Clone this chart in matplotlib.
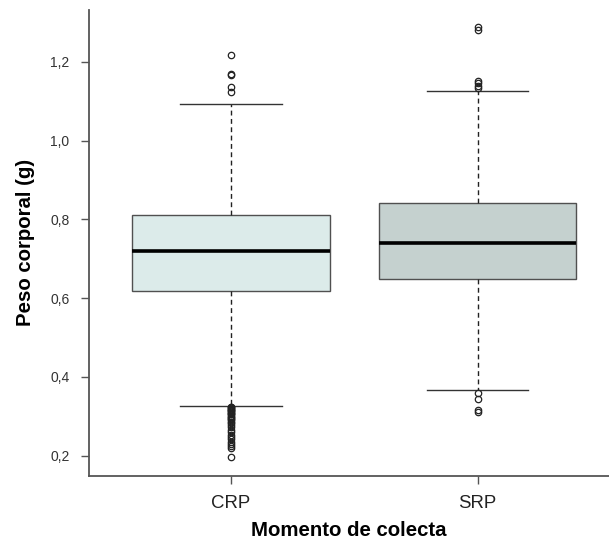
import matplotlib
matplotlib.use("Agg")
import matplotlib.pyplot as plt

plt.rcParams['font.family'] = ['Liberation Sans', 'DejaVu Sans']

# Summary statistics of body weight (g) per collection moment
categories = ["CRP", "SRP"]
q1 = [0.617, 0.648]
median = [0.719, 0.741]
q3 = [0.810, 0.841]
whisker_low = [0.327, 0.368]
whisker_high = [1.093, 1.127]
outliers = [
    [1.218, 1.170, 1.166, 1.135, 1.123,
     0.325, 0.323, 0.321, 0.319, 0.317, 0.315, 0.313, 0.311, 0.309, 0.307,
     0.305, 0.302, 0.299, 0.296, 0.293, 0.290, 0.286, 0.282, 0.277, 0.272,
     0.266, 0.260, 0.254, 0.248, 0.242, 0.236, 0.231, 0.226, 0.221, 0.197],
    [1.287, 1.280, 1.150, 1.145, 1.138, 1.133,
     0.360, 0.345, 0.316, 0.311],
]
box_colors = ["#dcebea", "#c5d1cf"]
yticks = [0.2, 0.4, 0.6, 0.8, 1.0, 1.2]
ytick_labels = ["0,2", "0,4", "0,6", "0,8", "1,0", "1,2"]

fig = plt.figure(figsize=(6.09, 5.42), dpi=100)
ax = fig.add_axes([0.146, 0.122, 0.854, 0.86])

stats = []
for i, name in enumerate(categories):
    stats.append(dict(label=name, med=median[i], q1=q1[i], q3=q3[i],
                      whislo=whisker_low[i], whishi=whisker_high[i],
                      fliers=outliers[i]))

bp = ax.bxp(stats, positions=[1, 2], widths=0.8, patch_artist=True,
            showfliers=True,
            boxprops=dict(edgecolor="#505050", linewidth=1.0),
            medianprops=dict(color="black", linewidth=2.6),
            whiskerprops=dict(color="#222222", linewidth=1.0, linestyle=(0, (3.5, 2.5))),
            capprops=dict(color="#333333", linewidth=1.0),
            capwidths=0.41,
            flierprops=dict(marker="o", markersize=4.6, markerfacecolor="none",
                            markeredgecolor="#222222", markeredgewidth=0.9,
                            linestyle="none"))
for patch, c in zip(bp["boxes"], box_colors):
    patch.set_facecolor(c)

ax.set_xlim(0.424, 2.533)
ax.set_ylim(0.149, 1.332)
ax.set_yticks(yticks)
ax.set_yticklabels(ytick_labels, fontsize=10, color="#333333")
ax.set_xticks([1, 2])
ax.set_xticklabels(categories, fontsize=13.4, color="#222222")

for side in ["top", "right"]:
    ax.spines[side].set_visible(False)
for side in ["left", "bottom"]:
    ax.spines[side].set_color("#555555")
    ax.spines[side].set_linewidth(1.3)
ax.tick_params(axis="both", direction="out", length=6, width=1.0, color="#555555")
ax.tick_params(axis="y", pad=8)
ax.tick_params(axis="x", pad=8)

ax.set_ylabel("Peso corporal (g)", fontsize=14.7, fontweight="bold", labelpad=11)
ax.set_xlabel("Momento de colecta", fontsize=14.7, fontweight="bold", labelpad=6)

fig.savefig("out.png", dpi=100)
